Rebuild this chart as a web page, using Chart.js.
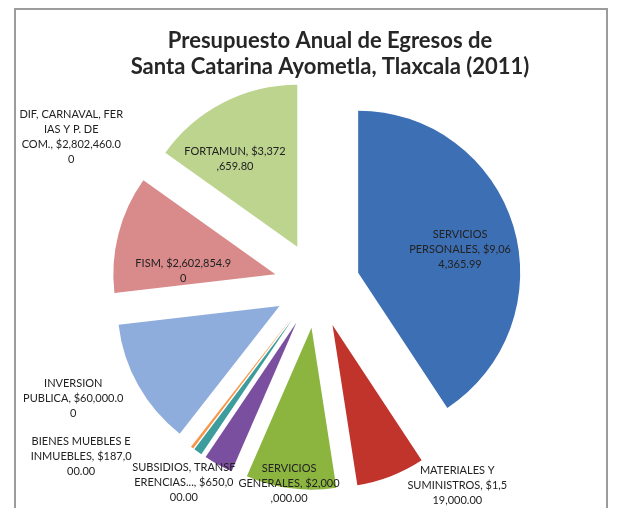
<!DOCTYPE html>
<html>
<head>
<meta charset="utf-8">
<script src="https://cdn.jsdelivr.net/npm/chart.js@4.4.0/dist/chart.umd.min.js"></script>
<style>
    html, body { margin: 0; padding: 0; background: #fff; }
    #wrap { position: relative; width: 620px; height: 508px; }
</style>
</head>
<body>
<div id="wrap"><canvas id="egresosChart" width="620" height="508"></canvas></div>
<script>
// Title (two lines, as in the original)
const titleLines = ['Presupuesto Anual de Egresos de', 'Santa Catarina Ayometla, Tlaxcala (2011)'];

// Budget items, clockwise from 12 o'clock
const categories = [
    'SERVICIOS PERSONALES',
    'MATERIALES Y SUMINISTROS',
    'SERVICIOS GENERALES',
    'SUBSIDIOS, TRANSFERENCIAS...',
    'BIENES MUEBLES E INMUEBLES',
    'INVERSION PUBLICA',
    'DIF, CARNAVAL, FERIAS Y P. DE COM.',
    'FISM',
    'FORTAMUN'
];
const amounts = [9064365.99, 1519000, 2000000, 650000, 187000, 60000, 2802460, 2602854.90, 3372659.80];

// Data labels, wrapped the way they appear in the picture
const labelLines = [
    ['SERVICIOS', 'PERSONALES, $9,06', '4,365.99'],
    ['MATERIALES Y', 'SUMINISTROS, $1,5', '19,000.00'],
    ['SERVICIOS', 'GENERALES, $2,000', ',000.00'],
    ['SUBSIDIOS, TRANSF', 'ERENCIAS..., $650,0', '00.00'],
    ['BIENES MUEBLES E', 'INMUEBLES, $187,0', '00.00'],
    ['INVERSION', 'PUBLICA, $60,000.0', '0'],
    ['DIF, CARNAVAL, FER', 'IAS Y P. DE', 'COM., $2,802,460.0', '0'],
    ['FISM, $2,602,854.9', '0'],
    ['FORTAMUN, $3,372', ',659.80']
];

const sliceColors = ['#3d6fb5', '#c0342c', '#8cb540', '#7b4fa0', '#3d9c9c', '#f79646', '#8eaddc', '#d98a8a', '#bdd48f'];

// where each label sits: clock angle (deg from 12 o'clock) and distance in radii from the pie centre
const labelSpots = [[76, 0.91], [145, 1.51], [188, 1.24], [214, 1.47], [234, 1.80], [245, 1.66], [301, 1.77], [276, 0.83], [327, 0.93]];

const pieRadius = 162;
const explodeDist = 43;

// pull every slice out from the centre along its middle angle
const explodePlugin = {
    id: 'explode',
    beforeDatasetDraw(chart, args) {
        const ctx = chart.ctx;
        args.meta.data.forEach((arc) => {
            const mid = (arc.startAngle + arc.endAngle) / 2;
            ctx.save();
            ctx.translate(Math.cos(mid) * explodeDist, Math.sin(mid) * explodeDist);
            arc.draw(ctx);
            ctx.restore();
        });
        return false;
    }
};

// frame, title and data labels
const decorPlugin = {
    id: 'decor',
    beforeDraw(chart) {
        const ctx = chart.ctx;
        ctx.save();
        ctx.fillStyle = '#fff';
        ctx.fillRect(0, 0, chart.width, chart.height);
        ctx.strokeStyle = '#9c9c9c';
        ctx.lineWidth = 2;
        ctx.strokeRect(15, 9, 592, 520);
        ctx.restore();
    },
    afterDraw(chart) {
        const ctx = chart.ctx;
        const meta = chart.getDatasetMeta(0);
        ctx.save();
        ctx.textAlign = 'center';
        ctx.textBaseline = 'middle';
        ctx.fillStyle = '#262626';
        ctx.font = 'bold 22px Lato';
        titleLines.forEach((t, i) => ctx.fillText(t, 330, 41 + i * 26));

        ctx.font = '11px Lato';
        ctx.fillStyle = '#222';
        meta.data.forEach((arc, i) => {
            const [deg, k] = labelSpots[i];
            const a = (deg - 90) * Math.PI / 180;
            const cx = arc.x + Math.cos(a) * k * arc.outerRadius;
            const cy = arc.y + Math.sin(a) * k * arc.outerRadius;
            const lines = labelLines[i];
            const lh = 15;
            lines.forEach((line, j) => {
                ctx.fillText(line, cx, cy + (j - (lines.length - 1) / 2) * lh);
            });
        });
        ctx.restore();
    }
};

new Chart(document.getElementById('egresosChart'), {
    type: 'pie',
    data: {
        labels: categories,
        datasets: [{
            data: amounts,
            backgroundColor: sliceColors,
            borderWidth: 0,
            radius: pieRadius
        }]
    },
    options: {
        responsive: false,
        animation: false,
        events: [],
        layout: { padding: { left: 14, right: 0, top: 62, bottom: 0 } },
        plugins: {
            legend: { display: false },
            tooltip: { enabled: false },
            title: { display: false }
        }
    },
    plugins: [decorPlugin, explodePlugin]
});
</script>
</body>
</html>
